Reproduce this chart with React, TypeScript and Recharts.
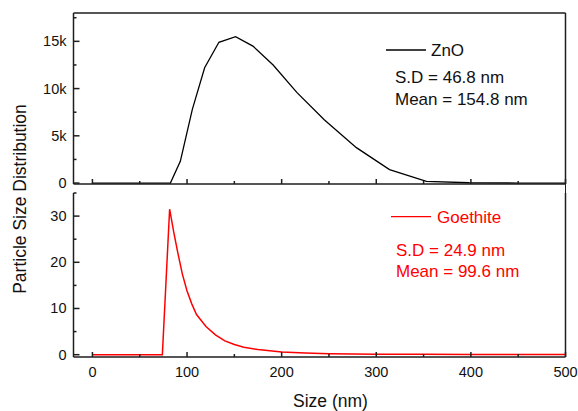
import { LineChart, Line, XAxis, YAxis, ReferenceLine } from 'recharts'

// ZnO size distribution
const znoSize = [0, 40, 73, 82.4, 92.9, 105.6, 118.6, 133.7, 151.3, 169.6, 191, 216, 245, 279, 314, 353, 398, 450, 500]
const znoCount = [0, 0, 0, 0, 2300, 7800, 12200, 14900, 15500, 14500, 12500, 9600, 6700, 3750, 1420, 170, 30, 0, 0]

// Goethite size distribution (bottom panel)
const goeSize = [0, 40, 73.9, 81.6, 86, 90, 95, 100, 105, 110, 120, 130, 140, 150, 160, 175, 200, 225, 250, 300, 350, 400, 450, 500]
const goeCount = [0, 0, 0, 31.5, 26.5, 22.3, 17.5, 13.8, 11.0, 8.7, 6.1, 4.3, 3.0, 2.2, 1.6, 1.1, 0.6, 0.35, 0.2, 0.12, 0.08, 0.06, 0.05, 0.05]

const xTicks = [0, 50, 100, 150, 200, 250, 300, 350, 400, 450, 500]
const topTicks = [0, 2500, 5000, 7500, 10000, 12500, 15000, 17500]
const bottomTicks = [0, 5, 10, 15, 20, 25, 30, 35]

const znoData = znoSize.map((size, i) => ({ size, value: znoCount[i] }))
const goeData = goeSize.map((size, i) => ({ size, value: goeCount[i] }))

const AXIS = '#1e1e1e'
const RED = '#ff0000'
const FONT = '"Liberation Sans", Arial, sans-serif'

function XTick({ x, y, payload, showLabel }: any) {
  const v = payload.value
  const major = v % 100 === 0
  return (
    <g>
      <line x1={x} x2={x} y1={y} y2={y - (major ? 5 : 3)} stroke={AXIS} strokeWidth={1.5} />
      {showLabel && major && (
        <text x={x} y={y + 19.5} textAnchor="middle" fontSize={14.5} fill="#111" fontFamily={FONT}>{v}</text>
      )}
    </g>
  )
}

function YTick({ x, y, payload, step, fmt }: any) {
  const v = payload.value
  const major = v % step === 0
  return (
    <g>
      <line x1={x} x2={x + (major ? 6 : 3)} y1={y} y2={y} stroke={AXIS} strokeWidth={1.5} />
      {major && (
        <text x={x - 7} y={y + 5} textAnchor="end" fontSize={14.5} fill="#111" fontFamily={FONT}>{fmt(v)}</text>
      )}
    </g>
  )
}

const fmtK = (v: number) => (v === 0 ? '0' : `${v / 1000}k`)
const fmtN = (v: number) => `${v}`

export default function App() {
  return (
    <div style={{ position: 'absolute', left: 0, top: 0, width: 578, height: 411, background: '#fff', fontFamily: FONT }}>
      <div style={{ position: 'absolute', left: 0, top: 0 }}>
        <LineChart width={578} height={190} margin={{ top: 13, right: 12.5, bottom: 5, left: 0 }}>
          <XAxis type="number" dataKey="size" domain={[-20, 500]} allowDataOverflow ticks={xTicks} interval={0}
            height={1} tickSize={0} tickMargin={0} tickLine={false} stroke={AXIS} strokeWidth={1.5}
            tick={(p: any) => <XTick {...p} />} />
          <YAxis type="number" domain={[-100, 18000]} allowDataOverflow ticks={topTicks} interval={0}
            width={73.5} tickSize={0} tickMargin={0} tickLine={false} stroke={AXIS} strokeWidth={1.5}
            tick={(p: any) => <YTick {...p} step={5000} fmt={fmtK} />} />
          <ReferenceLine y={18000} stroke={AXIS} strokeWidth={1.5} />
          <ReferenceLine x={500} stroke={AXIS} strokeWidth={1.5} />
          <Line data={znoData} dataKey="value" type="linear" stroke="#000" strokeWidth={1.3} dot={false} isAnimationActive={false} />
        </LineChart>
      </div>
      <div style={{ position: 'absolute', left: 0, top: 190 }}>
        <LineChart width={578} height={221} margin={{ top: 3, right: 12.5, bottom: 24, left: 0 }}>
          <XAxis type="number" dataKey="size" domain={[-20, 500]} allowDataOverflow ticks={xTicks} interval={0}
            height={30} tickSize={0} tickMargin={0} tickLine={false} stroke={AXIS} strokeWidth={1.5}
            tick={(p: any) => <XTick {...p} showLabel />} />
          <YAxis type="number" domain={[-0.5, 35]} allowDataOverflow ticks={bottomTicks} interval={0}
            width={73.5} tickSize={0} tickMargin={0} tickLine={false} stroke={AXIS} strokeWidth={1.5}
            tick={(p: any) => <YTick {...p} step={10} fmt={fmtN} />} />
          <ReferenceLine x={500} stroke={AXIS} strokeWidth={1.5} />
          <Line data={goeData} dataKey="value" type="linear" stroke={RED} strokeWidth={1.5} dot={false} isAnimationActive={false} />
        </LineChart>
      </div>
      {/* right frame edge across the gap between panels */}
      <div style={{ position: 'absolute', left: 564.75, top: 183, width: 1.5, height: 12, background: AXIS }} />
      <svg width={578} height={411} style={{ position: 'absolute', left: 0, top: 0, pointerEvents: 'none' }} fontFamily={FONT}>
        <line x1={386} x2={426} y1={50} y2={50} stroke="#000" strokeWidth={1.3} />
        <text x={431} y={56} fontSize={17} fill="#111">ZnO</text>
        <text x={395} y={83} fontSize={17} fill="#111">S.D = 46.8 nm</text>
        <text x={395} y={104.5} fontSize={17} fill="#111">Mean = 154.8 nm</text>
        <line x1={391} x2={431} y1={216.7} y2={216.7} stroke={RED} strokeWidth={1.3} />
        <text x={437} y={223} fontSize={17} fill={RED}>Goethite</text>
        <text x={396} y={255.5} fontSize={17} fill={RED}>S.D = 24.9 nm</text>
        <text x={396} y={276.5} fontSize={17} fill={RED}>Mean = 99.6 nm</text>
        <text x={330.5} y={406.5} fontSize={17.5} textAnchor="middle" fill="#111">Size (nm)</text>
        <text transform="translate(25.5, 199) rotate(-90)" fontSize={17.5} textAnchor="middle" fill="#111">Particle Size Distribution</text>
      </svg>
    </div>
  )
}
